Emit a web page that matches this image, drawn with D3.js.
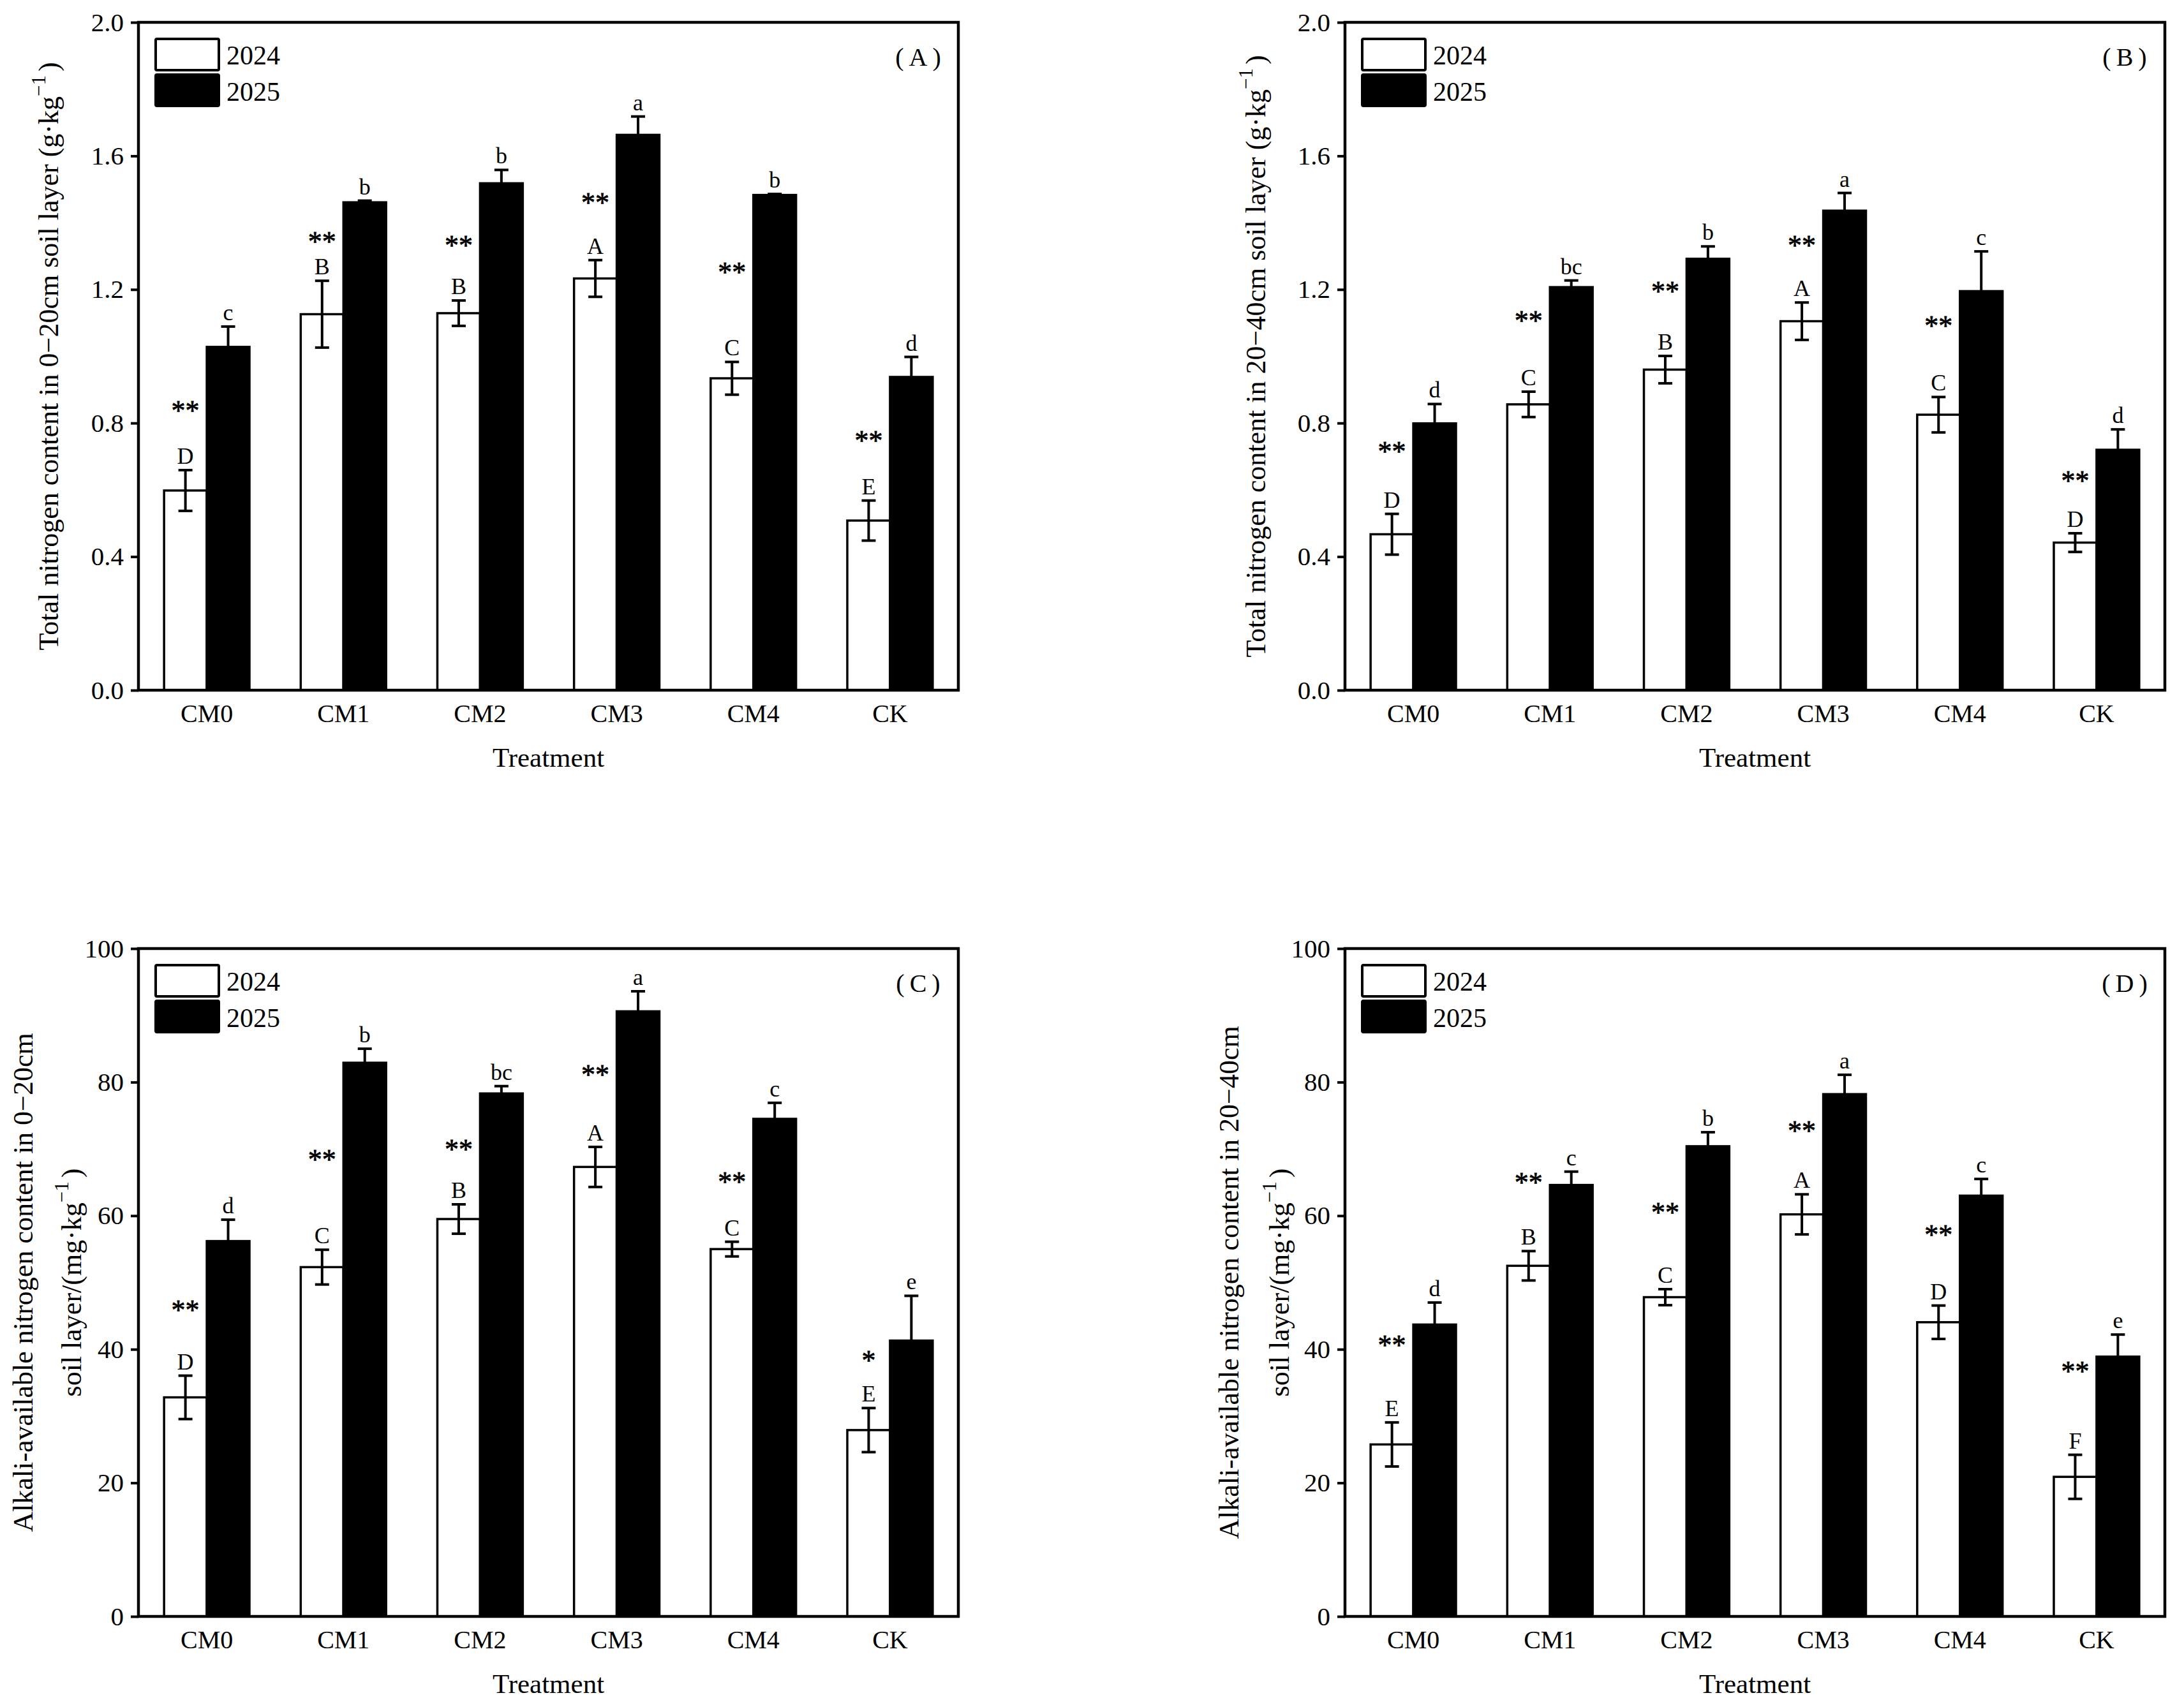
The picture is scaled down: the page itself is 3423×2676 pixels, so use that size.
<!DOCTYPE html>
<html>
<head>
<meta charset="utf-8">
<script src="https://cdn.jsdelivr.net/npm/d3@7"></script>
<style>
  html, body { margin: 0; padding: 0; background: #fff; }
  svg text { font-family: "Liberation Serif", "Times New Roman", serif; fill: #000; }
</style>
</head>
<body>
<svg id="chart" width="3423" height="2676"></svg>
<script>
// ---------------- DATA ----------------
const categories = ["CM0", "CM1", "CM2", "CM3", "CM4", "CK"];
const years = ["2024", "2025"];

// (A) Total nitrogen 0–20 cm (g·kg-1)
const tn020_2024 = [0.598, 1.126, 1.129, 1.233, 0.934, 0.508];
const tn020_2024_err = [0.061, 0.100, 0.038, 0.055, 0.049, 0.060];
const tn020_2025 = [1.028, 1.461, 1.518, 1.663, 1.483, 0.938];
const tn020_2025_err = [0.061, 0.005, 0.040, 0.055, 0.003, 0.060];
const tn020_letters2024 = ["D", "B", "B", "A", "C", "E"];
const tn020_letters2025 = ["c", "b", "b", "a", "b", "d"];
const tn020_sig = ["**", "**", "**", "**", "**", "**"];
const tn020_sigAt = [0.850, 1.356, 1.345, 1.472, 1.265, 0.761];

// (B) Total nitrogen 20–40 cm (g·kg-1)
const tn2040_2024 = [0.467, 0.856, 0.960, 1.105, 0.825, 0.442];
const tn2040_2024_err = [0.061, 0.038, 0.041, 0.056, 0.053, 0.028];
const tn2040_2025 = [0.799, 1.207, 1.292, 1.436, 1.195, 0.720];
const tn2040_2025_err = [0.058, 0.020, 0.037, 0.053, 0.119, 0.061];
const tn2040_letters2024 = ["D", "C", "B", "A", "C", "D"];
const tn2040_letters2025 = ["d", "bc", "b", "a", "c", "d"];
const tn2040_sig = ["**", "**", "**", "**", "**", "**"];
const tn2040_sigAt = [0.728, 1.120, 1.207, 1.344, 1.105, 0.639];

// (C) Alkali-available nitrogen 0–20 cm (mg·kg-1)
const an020_2024 = [32.8, 52.3, 59.5, 67.3, 55.0, 27.9];
const an020_2024_err = [3.25, 2.6, 2.2, 3.0, 1.1, 3.3];
const an020_2025 = [56.2, 82.9, 78.3, 90.6, 74.5, 41.3];
const an020_2025_err = [3.2, 2.1, 1.1, 3.0, 2.4, 6.7];
const an020_letters2024 = ["D", "C", "B", "A", "C", "E"];
const an020_letters2025 = ["d", "b", "bc", "a", "c", "e"];
const an020_sig = ["**", "**", "**", "**", "**", "*"];
const an020_sigAt = [46.5, 69.1, 70.6, 81.8, 65.7, 39.0];

// (D) Alkali-available nitrogen 20–40 cm (mg·kg-1)
const an2040_2024 = [25.75, 52.5, 47.8, 60.2, 44.05, 20.9];
const an2040_2024_err = [3.3, 2.2, 1.2, 3.0, 2.5, 3.3];
const an2040_2025 = [43.7, 64.6, 70.4, 78.2, 63.0, 38.9];
const an2040_2025_err = [3.3, 2.0, 2.1, 2.9, 2.5, 3.3];
const an2040_letters2024 = ["E", "B", "C", "A", "D", "F"];
const an2040_letters2025 = ["d", "c", "b", "a", "c", "e"];
const an2040_sig = ["**", "**", "**", "**", "**", "**"];
const an2040_sigAt = [41.3, 65.6, 61.1, 73.4, 57.8, 37.3];

const tnTicks = [0.0, 0.4, 0.8, 1.2, 1.6, 2.0];
const anTicks = [0, 20, 40, 60, 80, 100];
const xTitle = "Treatment";

// ---------------- DRAW ----------------
const svg = d3.select("#chart");
svg.append("rect").attr("width", 3423).attr("height", 2676).attr("fill", "#fff");

const W = 1285, H = 1047;

function panel(opt) {
  const g = svg.append("g").attr("transform", `translate(${opt.left},${opt.top})`);
  const x = d3.scaleBand().domain(categories).range([0, W]).padding(0);
  const x1 = d3.scaleBand().domain(years).range([0, x.bandwidth()]).paddingInner(0).paddingOuter(0.6);
  const y = d3.scaleLinear().domain(opt.domain).range([H, 0]);

  const rows = categories.map((c, i) => ({
    cat: c, i,
    vals: [
      { yr: "2024", v: opt.v24[i], e: opt.e24[i], l: opt.l24[i] },
      { yr: "2025", v: opt.v25[i], e: opt.e25[i], l: opt.l25[i] }
    ]
  }));

  const grp = g.selectAll("g.grp").data(rows).join("g")
    .attr("class", "grp")
    .attr("transform", d => `translate(${x(d.cat)},0)`);

  // bars
  grp.selectAll("rect.bar").data(d => d.vals).join("rect")
    .attr("class", "bar")
    .attr("x", d => x1(d.yr))
    .attr("width", x1.bandwidth())
    .attr("y", d => y(d.v))
    .attr("height", d => H - y(d.v))
    .attr("fill", d => d.yr === "2024" ? "#fff" : "#000")
    .attr("stroke", "#000")
    .attr("stroke-width", 3.5);

  // error bars
  const cap = 11;
  const eb = grp.selectAll("g.eb").data(d => d.vals).join("g").attr("class", "eb");
  eb.append("line")
    .attr("x1", d => x1(d.yr) + x1.bandwidth() / 2)
    .attr("x2", d => x1(d.yr) + x1.bandwidth() / 2)
    .attr("y1", d => d.yr === "2024" ? y(d.v - d.e) : y(d.v))
    .attr("y2", d => y(d.v + d.e))
    .attr("stroke", "#000").attr("stroke-width", 4);
  eb.append("line")
    .attr("x1", d => x1(d.yr) + x1.bandwidth() / 2 - cap)
    .attr("x2", d => x1(d.yr) + x1.bandwidth() / 2 + cap)
    .attr("y1", d => y(d.v + d.e)).attr("y2", d => y(d.v + d.e))
    .attr("stroke", "#000").attr("stroke-width", 4);
  eb.filter(d => d.yr === "2024").append("line")
    .attr("x1", d => x1(d.yr) + x1.bandwidth() / 2 - cap)
    .attr("x2", d => x1(d.yr) + x1.bandwidth() / 2 + cap)
    .attr("y1", d => y(d.v - d.e)).attr("y2", d => y(d.v - d.e))
    .attr("stroke", "#000").attr("stroke-width", 4);

  // letters
  grp.selectAll("text.let").data(d => d.vals).join("text")
    .attr("class", "let")
    .attr("x", d => x1(d.yr) + x1.bandwidth() / 2)
    .attr("y", d => y(d.v + d.e) - 10)
    .attr("text-anchor", "middle")
    .attr("font-size", 36)
    .text(d => d.l);

  // significance stars
  grp.append("text")
    .attr("x", d => x1("2024") + x1.bandwidth() / 2)
    .attr("y", d => y(opt.sigAt[d.i]) + 21)
    .attr("text-anchor", "middle")
    .attr("font-size", 44)
    .attr("stroke", "#000").attr("stroke-width", 0.8)
    .text(d => opt.sig[d.i]);

  // y axis
  const yAxis = d3.axisLeft(y).tickValues(opt.ticks).tickFormat(opt.fmt).tickSize(12).tickPadding(11);
  const ya = g.append("g").call(yAxis);
  ya.select(".domain").remove();
  ya.selectAll(".tick line").attr("stroke", "#000").attr("stroke-width", 4);
  ya.selectAll(".tick text").attr("font-size", 41).attr("font-family", "Liberation Serif").attr("fill", "#000");

  // x axis labels
  const xAxis = d3.axisBottom(x).tickSize(0).tickPadding(0);
  const xa = g.append("g").attr("transform", `translate(0,${H})`).call(xAxis);
  xa.select(".domain").remove();
  xa.selectAll(".tick text").attr("font-size", 40).attr("font-family", "Liberation Serif")
    .attr("fill", "#000").attr("dy", 0).attr("y", 50);

  // frame
  g.append("rect").attr("x", 0).attr("y", 0).attr("width", W).attr("height", H)
    .attr("fill", "none").attr("stroke", "#000").attr("stroke-width", 4.5);

  // x title
  g.append("text").attr("x", W / 2).attr("y", H + 120).attr("text-anchor", "middle")
    .attr("font-size", 43).text(xTitle);

  // y title
  opt.yTitle.forEach((line, k) => {
    const t = g.append("text")
      .attr("transform", `translate(${line.dx},${H / 2}) rotate(-90)`)
      .attr("text-anchor", "middle")
      .attr("font-size", 44);
    t.append("tspan").text(line.main);
    if (line.sup) {
      t.append("tspan").attr("dy", -20).attr("font-size", 31).text(line.sup);
      t.append("tspan").attr("dy", 20).attr("dx", 6).text(line.end);
    }
  });

  // panel label
  g.append("text").attr("x", W - 67).attr("y", 68).attr("text-anchor", "middle")
    .attr("font-size", 40)
    .text(opt.label);

  // legend
  const lg = g.append("g").attr("transform", "translate(27,26)");
  years.forEach((yr, k) => {
    lg.append("rect").attr("x", 0).attr("y", k * 56).attr("width", 99).attr("height", 49)
      .attr("rx", 2)
      .attr("fill", yr === "2024" ? "#fff" : "#000").attr("stroke", "#000").attr("stroke-width", 4);
    lg.append("text").attr("x", 111).attr("y", k * 57 + 40).attr("font-size", 42).text(yr);
  });
}

const fmt1 = d3.format(".1f");
const fmt0 = d3.format("d");

panel({
  left: 217, top: 35, domain: [0, 2], ticks: tnTicks, fmt: fmt1,
  v24: tn020_2024, e24: tn020_2024_err, v25: tn020_2025, e25: tn020_2025_err,
  l24: tn020_letters2024, l25: tn020_letters2025, sig: tn020_sig, sigAt: tn020_sigAt,
  label: "\u2009(\u2009A\u2009)",
  yTitle: [{ dx: -126, main: "Total nitrogen content in 0\u221220cm soil layer (g\u00b7kg", sup: "\u22121", end: ")" }]
});
panel({
  left: 2108, top: 35, domain: [0, 2], ticks: tnTicks, fmt: fmt1,
  v24: tn2040_2024, e24: tn2040_2024_err, v25: tn2040_2025, e25: tn2040_2025_err,
  l24: tn2040_letters2024, l25: tn2040_letters2025, sig: tn2040_sig, sigAt: tn2040_sigAt,
  label: "\u2009(\u2009B\u2009)",
  yTitle: [{ dx: -125, main: "Total nitrogen content in 20\u221240cm soil layer (g\u00b7kg", sup: "\u22121", end: ")" }]
});
panel({
  left: 217, top: 1487, domain: [0, 100], ticks: anTicks, fmt: fmt0,
  v24: an020_2024, e24: an020_2024_err, v25: an020_2025, e25: an020_2025_err,
  l24: an020_letters2024, l25: an020_letters2025, sig: an020_sig, sigAt: an020_sigAt,
  label: "\u2009(\u2009C\u2009)",
  yTitle: [
    { dx: -166, main: "Alkali-available nitrogen content in 0\u221220cm" },
    { dx: -90, main: "soil layer/(mg\u00b7kg", sup: "\u22121", end: ")" }
  ]
});
panel({
  left: 2108, top: 1487, domain: [0, 100], ticks: anTicks, fmt: fmt0,
  v24: an2040_2024, e24: an2040_2024_err, v25: an2040_2025, e25: an2040_2025_err,
  l24: an2040_letters2024, l25: an2040_letters2025, sig: an2040_sig, sigAt: an2040_sigAt,
  label: "\u2009(\u2009D\u2009)",
  yTitle: [
    { dx: -167, main: "Alkali-available nitrogen content in 20\u221240cm" },
    { dx: -88, main: "soil layer/(mg\u00b7kg", sup: "\u22121", end: ")" }
  ]
});
</script>
</body>
</html>
